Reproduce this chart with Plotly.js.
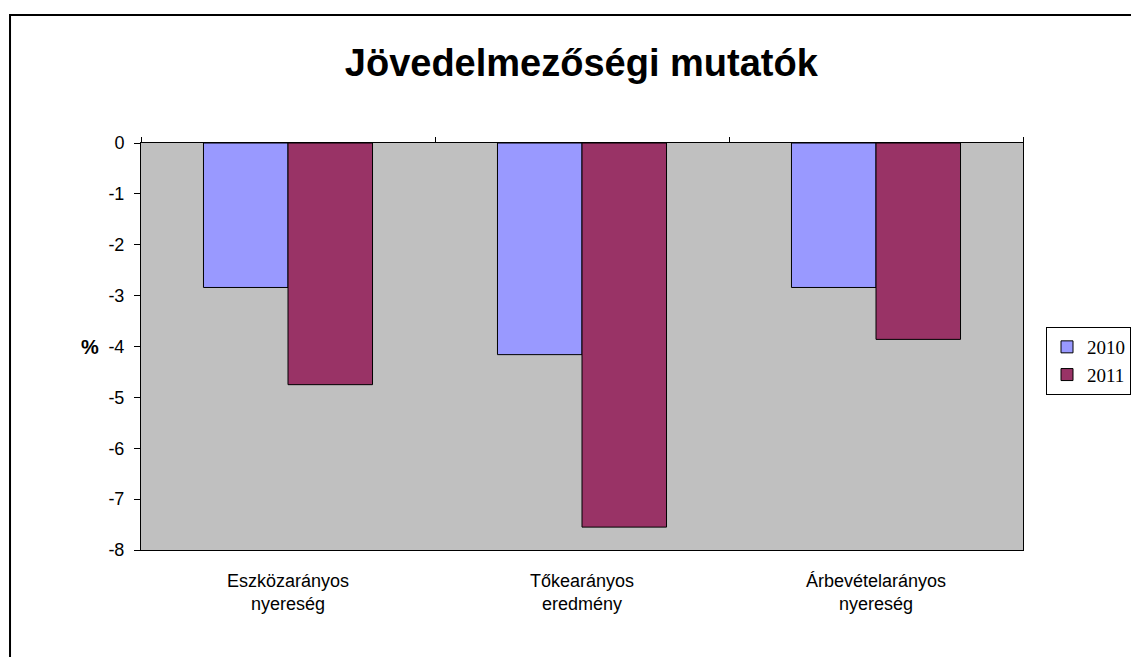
<!DOCTYPE html>
<html><head><meta charset="utf-8">
<script src="https://cdn.plot.ly/plotly-3.0.1.min.js"></script>
<style>body{margin:0;background:#fff}#c{width:1131px;height:657px}</style>
</head><body><div id="c"></div>
<script>
const categories = ["Eszközarányos<br>nyereség", "Tőkearányos<br>eredmény", "Árbevételarányos<br>nyereség"];
const series2010 = [-2.84, -4.16, -2.84];
const series2011 = [-4.75, -7.55, -3.86];
const seriesNames = ["2010", "2011"];
const yTicks = [0, -1, -2, -3, -4, -5, -6, -7, -8];
const yTickText = ["0", "-1", "-2", "-3", "-4", "-5", "-6", "-7", "-8"];

const traces = [
  {type:'bar', name:seriesNames[0], x:categories, y:series2010,
   marker:{color:'#9999FF', line:{color:'#000', width:1}}},
  {type:'bar', name:seriesNames[1], x:categories, y:series2011,
   marker:{color:'#993366', line:{color:'#000', width:1}}},
  {type:'bar', x:categories, y:[null,null,null], xaxis:'x2', showlegend:false, hoverinfo:'skip'}
];

const layout = {
  width:1131, height:657,
  margin:{l:141, r:108, t:143, b:107},
  paper_bgcolor:'#fff', plot_bgcolor:'#C0C0C0',
  barmode:'group', bargap:0.425, bargroupgap:0,
  title:{text:'<b>Jövedelmezőségi mutatók</b>', xref:'container', x:0.514, xanchor:'center', yref:'container', y:1-63/657, yanchor:'middle',
         font:{family:'Liberation Sans, Arial', size:38, color:'#000'}},
  xaxis:{type:'category', showline:true, linecolor:'#000', linewidth:1, mirror:false,
         ticks:'', showgrid:false, tickfont:{family:'Liberation Sans, Arial', size:18, color:'#000'},
         ticklabelstandoff:14},
  xaxis2:{type:'category', overlaying:'x', matches:'x', side:'top', showticklabels:false,
          ticks:'outside', ticklen:5, tickcolor:'#000', tickson:'boundaries', showline:true,
          linecolor:'#000', linewidth:1, showgrid:false},
  yaxis:{range:[-8,0], tickvals:yTicks, ticktext:yTickText, ticks:'outside', ticklen:6, tickcolor:'#000',
         showline:true, linecolor:'#000', linewidth:1, mirror:true, showgrid:false, zeroline:false,
         tickfont:{family:'Liberation Sans, Arial', size:18, color:'#000'}, ticklabelstandoff:6},
  legend:{xref:'container', yref:'container', x:1046/1131, xanchor:'left', y:1-327/657, yanchor:'top',
          bgcolor:'#fff', bordercolor:'#000', borderwidth:1, itemwidth:30,
          font:{family:'Liberation Serif, Times New Roman', size:19, color:'#000'}, tracegroupgap:8},
  annotations:[{text:'<b>%</b>', xref:'paper', yref:'paper', x:-0.045, y:0.50, xanchor:'right', yanchor:'middle',
                showarrow:false, font:{family:'Liberation Sans, Arial', size:20, color:'#000'}}],
  shapes:[{type:'rect', xref:'paper', yref:'paper', x0:-0.1485, x1:1.3, y0:-0.6, y1:1.3145,
           line:{color:'#000', width:2}, fillcolor:'rgba(0,0,0,0)', layer:'below'}]
};
Plotly.newPlot('c', traces, layout, {displayModeBar:false});
</script></body></html>
